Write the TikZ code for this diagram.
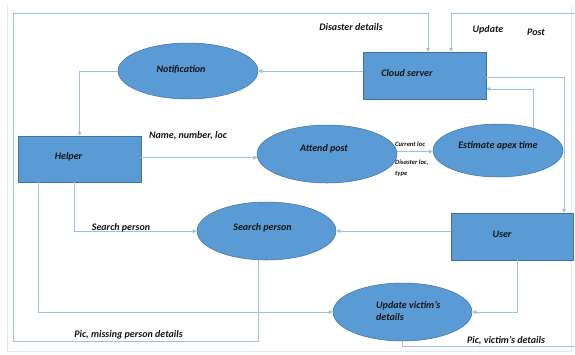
\documentclass[tikz,border=0pt]{standalone}
\usepackage{fontspec}
\setmainfont{Carlito}
\usetikzlibrary{arrows.meta,shapes.geometric}
\definecolor{boxfill}{HTML}{5B9BD5}
\definecolor{boxedge}{HTML}{41719C}
\definecolor{conncol}{HTML}{9FC0E0}
\definecolor{framecol}{HTML}{E6E9EC}
\definecolor{txtcol}{HTML}{151515}
\begin{document}
\begin{tikzpicture}[x=1pt,y=-1pt,
  proc/.style={ellipse, fill=boxfill, draw=boxedge, line width=0.5pt, inner sep=0pt},
  ent/.style={rectangle, fill=boxfill, draw=boxedge, line width=0.5pt, inner sep=0pt},
  txt/.style={inner sep=0pt, text=txtcol, font=\fontsize{10}{12.5}\selectfont\bfseries\itshape},
  smalltxt/.style={inner sep=0pt, text=txtcol, font=\fontsize{6.6}{8}\selectfont\bfseries\itshape},
  conn/.style={draw=conncol, line width=0.8pt},
  arr/.style={conn, -{Triangle[length=4pt,width=4pt,fill=conncol]}}
]
\useasboundingbox (0,0) rectangle (575,354);
\fill[white] (0,0) rectangle (575,354);
% faint outer frame
\draw[framecol, line width=0.8pt] (7,5) -- (7,351) -- (571,351) -- (571,5);

% entities and processes
\node[ent, minimum width=123pt, minimum height=46pt] (helper) at (79.5,159) {};
\node[ent, minimum width=123pt, minimum height=47pt] (cloud) at (424.5,75.5) {};
\node[ent, minimum width=122pt, minimum height=47pt] (user) at (512,236.5) {};
\node[proc, minimum width=140pt, minimum height=56pt] (notif) at (188,71) {};
\node[proc, minimum width=140pt, minimum height=58pt] (attend) at (327,154) {};
\node[proc, minimum width=130pt, minimum height=53pt] (est) at (498,150.5) {};
\node[proc, minimum width=139pt, minimum height=58pt] (sp) at (266.5,231) {};
\node[proc, minimum width=139pt, minimum height=58pt] (upd) at (402.5,312) {};

% texts in shapes
\node[txt] (thelper) at (68.5,157) {Helper};
\node[txt] (tcloud) at (407,73) {Cloud server};
\node[txt] (tuser) at (502,234) {User};
\node[txt] (tnotif) at (181,70) {Notification};
\node[txt] (tattend) at (324,149) {Attend post};
\node[txt] (test) at (498,146) {Estimate apex time};
\node[txt] (tsp) at (262.5,228) {Search person};
\node[txt, align=left, anchor=west] (tupd) at (376,311) {Update victim’s\\details};

% helper coordinates
\coordinate (y77) at (0,77);
\coordinate (y89) at (0,89);
\coordinate (x564) at (564,0);
\coordinate (x74) at (74,0);
\coordinate (x38) at (38,0);
\coordinate (x517) at (517,0);
\coordinate (dA) at (13,341);
\coordinate (dB) at (13,13);
\coordinate (dC) at (428,13);
\coordinate (eA) at (578,346);
\coordinate (eB) at (578,13);
\coordinate (eC) at (451,13);

% connectors
\draw[arr] (cloud.west |- notif.east) -- (notif.east);
\draw[arr] (notif.west) -| (helper.north);
\draw[arr] (helper.east |- attend.183) -- (attend.183);
\draw[arr] (attend.2) -- (attend.2 -| est.west);
\draw[arr] (est.32) -- (est.32 |- y89) -- (cloud.east |- y89);
\draw[arr] (cloud.east |- y77) -| (user.north -| x564);
\draw[arr] (helper.south -| x74) |- (sp.west);
\draw[arr] (helper.south -| x38) |- (upd.west);
\draw[arr] (user.west |- sp.east) -- (sp.east);
\draw[arr] (user.south -| x517) |- (upd.east);
\draw[arr] (sp.255) |- (dA) -- (dB) -- (dC) -- (dC |- cloud.north);
\draw[arr] (upd.south) |- (eA) -- (eB) -- (eC) -- (eC |- cloud.north);

% connector labels
\node[txt] (ldis) at (351,27) {Disaster details};
\node[txt] (lupd) at (488,30) {Update};
\node[txt] (lpost) at (536,32) {Post};
\node[txt] (lname) at (188,136) {Name, number, loc};
\node[smalltxt, anchor=west] (lcur) at (395,144) {Current loc};
\node[smalltxt, anchor=west] (ldl) at (395,163) {Disaster loc,};
\node[smalltxt, anchor=west] (ltype) at (395,174) {type};
\node[txt] (lsp) at (121,228) {Search person};
\node[txt] (lpic) at (128.5,335) {Pic, missing person details};
\node[txt] (lvic) at (506,341) {Pic, victim’s details};
\end{tikzpicture}
\end{document}
